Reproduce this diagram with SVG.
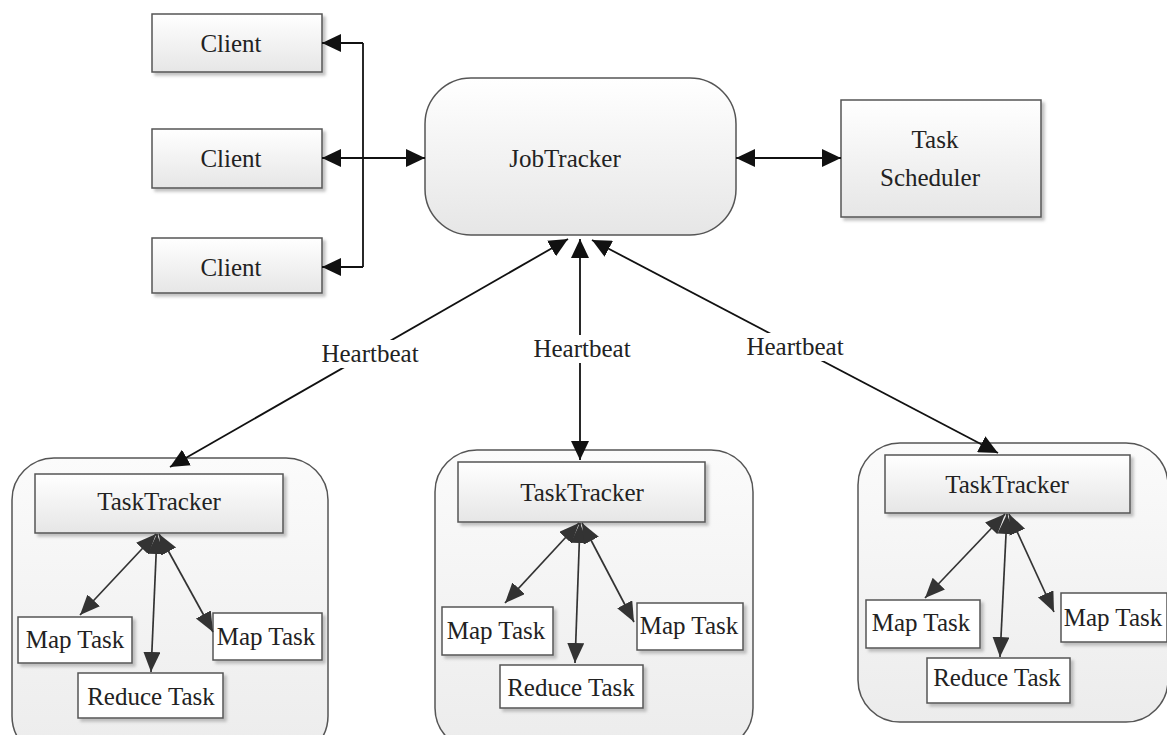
<svg xmlns="http://www.w3.org/2000/svg" width="1167" height="735" viewBox="0 0 1167 735">
<defs>
<linearGradient id="boxg" x1="0" y1="0" x2="0" y2="1">
<stop offset="0" stop-color="#ffffff"/>
<stop offset="1" stop-color="#e6e6e6"/>
</linearGradient>
<linearGradient id="contg" x1="0" y1="0" x2="0" y2="1">
<stop offset="0" stop-color="#fbfbfb"/>
<stop offset="1" stop-color="#ececec"/>
</linearGradient>
<filter id="sh" x="-10%" y="-10%" width="130%" height="130%">
<feDropShadow dx="3" dy="3" stdDeviation="1.5" flood-color="#999" flood-opacity="0.6"/>
</filter>
<marker id="ah" markerUnits="userSpaceOnUse" markerWidth="20" markerHeight="18" refX="19" refY="9" orient="auto-start-reverse">
<path d="M0,0 L19,9 L0,18 z" fill="#111"/>
</marker>
<marker id="ah2" markerUnits="userSpaceOnUse" markerWidth="22" markerHeight="18" refX="20" refY="8.5" orient="auto-start-reverse">
<path d="M0,0 L20,8.5 L0,17 z" fill="#333"/>
</marker>
</defs>
<style>
.box{fill:url(#boxg);stroke:#555;stroke-width:1.5;filter:url(#sh)}
.wbox{fill:#fff;stroke:#555;stroke-width:1.5;filter:url(#sh)}
.cont{fill:url(#contg);stroke:#555;stroke-width:1.5}
.jt{fill:url(#boxg);stroke:#555;stroke-width:1.5}
.t{font-family:"Liberation Serif","Times New Roman",serif;font-size:25px;fill:#222;text-anchor:middle}
.c{fill:none;stroke:#111;stroke-width:1.8}
.ci{fill:none;stroke:#333;stroke-width:1.7}
.both{marker-start:url(#ah);marker-end:url(#ah)}
.both2{marker-start:url(#ah2);marker-end:url(#ah2)}
.end{marker-end:url(#ah)}
.lbl{fill:#fff}
</style>
<rect width="1167" height="735" fill="#fff"/>

<g id="client1"><rect class="box" x="152" y="14" width="170" height="58"/><text class="t" x="231" y="52">Client</text></g>
<g id="client2"><rect class="box" x="152" y="129" width="170" height="59"/><text class="t" x="231" y="167">Client</text></g>
<g id="client3"><rect class="box" x="152" y="238" width="170" height="55"/><text class="t" x="231" y="276">Client</text></g>

<g id="jobtracker"><rect class="jt" x="425" y="78" width="311" height="157" rx="46" ry="46"/><text class="t" x="565" y="167">JobTracker</text></g>

<g id="taskscheduler"><rect class="box" x="841" y="100" width="200" height="117"/><text class="t" x="935" y="148">Task</text><text class="t" x="930" y="186">Scheduler</text></g>

<g id="tt1-container"><rect class="cont" x="12" y="458" width="316" height="300" rx="42" ry="42"/></g>
<g id="tt1"><rect class="box" x="35" y="474" width="248" height="59"/><text class="t" x="159" y="510">TaskTracker</text></g>
<g id="tt1-map1"><rect class="wbox" x="18" y="617" width="114" height="46"/><text class="t" x="75" y="648">Map Task</text></g>
<g id="tt1-map2"><rect class="wbox" x="213" y="613" width="109" height="47"/><text class="t" x="266" y="645">Map Task</text></g>
<g id="tt1-reduce"><rect class="wbox" x="78" y="673" width="145" height="45"/><text class="t" x="151" y="705">Reduce Task</text></g>

<g id="tt2-container"><rect class="cont" x="435" y="450" width="318" height="300" rx="42" ry="42"/></g>
<g id="tt2"><rect class="box" x="458" y="462" width="247" height="60"/><text class="t" x="582" y="501">TaskTracker</text></g>
<g id="tt2-map1"><rect class="wbox" x="442" y="607" width="111" height="48"/><text class="t" x="496" y="639">Map Task</text></g>
<g id="tt2-map2"><rect class="wbox" x="637" y="603" width="106" height="47"/><text class="t" x="689" y="634">Map Task</text></g>
<g id="tt2-reduce"><rect class="wbox" x="500" y="665" width="143" height="43"/><text class="t" x="571" y="696">Reduce Task</text></g>

<g id="tt3-container"><rect class="cont" x="858" y="443" width="310" height="279" rx="42" ry="42"/></g>
<g id="tt3"><rect class="box" x="885" y="455" width="245" height="58"/><text class="t" x="1007" y="493">TaskTracker</text></g>
<g id="tt3-map1"><rect class="wbox" x="866" y="600" width="114" height="48"/><text class="t" x="921" y="631">Map Task</text></g>
<g id="tt3-map2"><rect class="wbox" x="1061" y="593" width="106" height="49"/><text class="t" x="1113" y="626">Map Task</text></g>
<g id="tt3-reduce"><rect class="wbox" x="927" y="658" width="143" height="45"/><text class="t" x="997" y="686">Reduce Task</text></g>

<g id="connectors">
<path class="c" d="M363,43 L363,267"/>
<path class="c end" d="M363,43 L322,43"/>
<path class="c end" d="M363,267 L322,267"/>
<path class="c both" d="M322,158 L425,158"/>
<path class="c both" d="M736,158 L841,158"/>

<path class="c both" d="M568,239 L170,467"/>
<path class="c both" d="M580,239 L580,460"/>
<path class="c both" d="M592,240 L998,453"/>
<rect class="lbl" x="318" y="340" width="104" height="28"/>
<text class="t" x="370" y="362">Heartbeat</text>
<rect class="lbl" x="530" y="335" width="104" height="28"/>
<text class="t" x="582" y="357">Heartbeat</text>
<rect class="lbl" x="743" y="333" width="104" height="28"/>
<text class="t" x="795" y="355">Heartbeat</text>

<path class="ci both2" d="M156,534 L80,615"/>
<path class="ci both2" d="M157,534 L151,672"/>
<path class="ci both2" d="M159,534 L213,632"/>

<path class="ci both2" d="M579,523 L505,603"/>
<path class="ci both2" d="M580,523 L575,663"/>
<path class="ci both2" d="M582,523 L634,622"/>

<path class="ci both2" d="M1005,514 L925,598"/>
<path class="ci both2" d="M1007,514 L1000,657"/>
<path class="ci both2" d="M1009,514 L1054,612"/>
</g>
</svg>
